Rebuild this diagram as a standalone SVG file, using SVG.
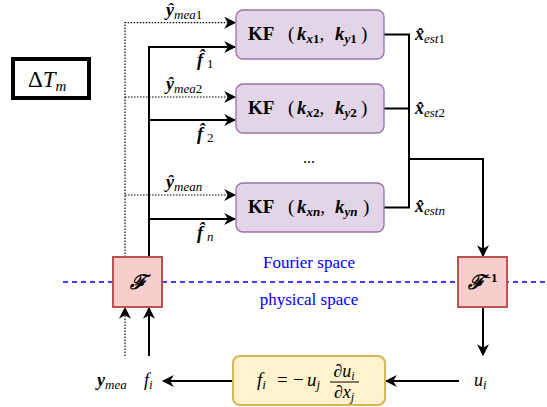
<svg xmlns="http://www.w3.org/2000/svg" width="547" height="407" viewBox="0 0 547 407" font-family="'Liberation Serif', 'DejaVu Serif', 'Times New Roman', serif">
<defs>
<style>
text{font-family:'Liberation Serif','DejaVu Serif','Times New Roman',serif;fill:#000}
.kf{fill:#e1d5e7;stroke:#9673a6;stroke-width:1.3}
.ft{fill:#f8cecc;stroke:#b85450;stroke-width:2}
.yb{fill:#fff2cc;stroke:#d6b656;stroke-width:2}
.sol{fill:none;stroke:#000;stroke-width:2}
.dot{fill:none;stroke:#000;stroke-width:1.2;stroke-dasharray:1.5 1.5}
.bv{font-weight:bold;font-style:italic;font-size:18px}
.sb{font-style:italic;font-size:13px}
.n{font-size:13px}
.blue{font-size:17px;fill:#0000ff}
.kt{font-size:19px}
.b{font-weight:bold}
.bi{font-weight:bold;font-style:italic}
.bs{font-weight:bold;font-style:italic;font-size:13px}
.it{font-style:italic}
</style>
<marker id="ah2" viewBox="0 0 10 10" refX="9" refY="5" markerWidth="12" markerHeight="12" orient="auto" markerUnits="userSpaceOnUse">
<path d="M0,0 L10,5 L0,10 L3,5 z" fill="#000"/>
</marker>
</defs>
<rect width="547" height="407" fill="#fff"/>

<line x1="63" y1="282" x2="547" y2="282" stroke="#0000ff" stroke-width="1.3" stroke-dasharray="5 4"/>
<text class="blue" x="309" y="268" text-anchor="middle">Fourier space</text>
<text class="blue" x="309" y="305" text-anchor="middle">physical space</text>

<g id="connectors">
<path class="dot" d="M125,257 V22.7 H235" marker-end="url(#ah2)"/>
<path class="dot" d="M125,97 H235" marker-end="url(#ah2)"/>
<path class="dot" d="M125,195 H235" marker-end="url(#ah2)"/>
<path class="sol" d="M149,257 V47 H235" marker-end="url(#ah2)"/>
<path class="sol" d="M149,120 H235" marker-end="url(#ah2)"/>
<path class="sol" d="M149,219 H235" marker-end="url(#ah2)"/>
<path class="sol" d="M384,34.5 H409 V207.5 H384"/>
<path class="sol" d="M384,108.5 H409"/>
<path class="sol" d="M409,159 H483 V256" marker-end="url(#ah2)"/>
<path class="sol" d="M483,307 V355" marker-end="url(#ah2)"/>
<path class="sol" d="M459,381 H386" marker-end="url(#ah2)"/>
<path class="sol" d="M233,381 H163" marker-end="url(#ah2)"/>
<path class="dot" d="M125,356 V308" marker-end="url(#ah2)"/>
<path class="sol" d="M149,356 V308" marker-end="url(#ah2)"/>
</g>

<g id="dT">
<rect x="13" y="59" width="76" height="39" fill="#fff" stroke="#000" stroke-width="4"/>
<text x="28" y="87" font-size="23">Δ<tspan class="it">T</tspan><tspan class="it" font-size="15" dy="4">m</tspan></text>
</g>

<g id="kf1">
<rect class="kf" x="236" y="10" width="148" height="49" rx="7"/>
<text class="kt" y="40"><tspan class="b" x="248">KF</tspan><tspan x="288">(</tspan><tspan class="bi" x="297">k</tspan><tspan class="bs" dy="3">x</tspan><tspan class="b n">1</tspan><tspan dy="-3">,</tspan><tspan class="bi" x="335">k</tspan><tspan class="bs" dy="3">y</tspan><tspan class="b n">1</tspan><tspan dy="-3" x="361">)</tspan></text>
</g>
<g id="kf2">
<rect class="kf" x="236" y="84" width="148" height="49" rx="7"/>
<text class="kt" y="114"><tspan class="b" x="248">KF</tspan><tspan x="288">(</tspan><tspan class="bi" x="297">k</tspan><tspan class="bs" dy="3">x</tspan><tspan class="b n">2</tspan><tspan dy="-3">,</tspan><tspan class="bi" x="335">k</tspan><tspan class="bs" dy="3">y</tspan><tspan class="b n">2</tspan><tspan dy="-3" x="361">)</tspan></text>
</g>
<g id="dots">
<text x="309" y="163" text-anchor="middle" font-size="16">...</text>
</g>
<g id="kfn">
<rect class="kf" x="236" y="183" width="148" height="49" rx="7"/>
<text class="kt" y="213"><tspan class="b" x="248">KF</tspan><tspan x="288">(</tspan><tspan class="bi" x="297">k</tspan><tspan class="bs" dy="3">xn</tspan><tspan dy="-3">,</tspan><tspan class="bi" x="335">k</tspan><tspan class="bs" dy="3">yn</tspan><tspan dy="-3" x="363">)</tspan></text>
</g>

<g id="labels">
<text x="166" y="16"><tspan class="bv">ŷ</tspan><tspan class="sb" dy="3">mea</tspan><tspan class="n">1</tspan></text>
<text x="166" y="90"><tspan class="bv">ŷ</tspan><tspan class="sb" dy="3">mea</tspan><tspan class="n">2</tspan></text>
<text x="166" y="188"><tspan class="bv">ŷ</tspan><tspan class="sb" dy="3">mean</tspan></text>
<text x="197" y="66"><tspan class="bv">f̂</tspan><tspan class="n" dx="4" dy="2">1</tspan></text>
<text x="197" y="140"><tspan class="bv">f̂</tspan><tspan class="n" dx="4" dy="2">2</tspan></text>
<text x="197" y="239"><tspan class="bv">f̂</tspan><tspan class="sb" dx="4" dy="2">n</tspan></text>
<text x="415" y="40"><tspan class="bv">x̂</tspan><tspan class="sb" dy="3">est</tspan><tspan class="n">1</tspan></text>
<text x="415" y="114"><tspan class="bv">x̂</tspan><tspan class="sb" dy="3">est</tspan><tspan class="n">2</tspan></text>
<text x="415" y="212"><tspan class="bv">x̂</tspan><tspan class="sb" dy="3">estn</tspan></text>
<text x="97" y="386"><tspan class="bv">y</tspan><tspan class="sb" dy="3">mea</tspan></text>
<text x="144" y="386"><tspan class="it" font-size="18">f</tspan><tspan class="sb" dy="3">i</tspan></text>
<text x="474" y="386"><tspan class="it" font-size="18">u</tspan><tspan class="sb" dy="3">i</tspan></text>
</g>

<g id="F">
<rect class="ft" x="113" y="257" width="49" height="50"/>
<text x="137.5" y="289" text-anchor="middle" font-size="20" class="bi">ℱ</text>
</g>
<g id="Finv">
<rect class="ft" x="458" y="257" width="49" height="50"/>
<text x="482.5" y="289" text-anchor="middle" font-size="20"><tspan class="bi">ℱ</tspan><tspan class="b" font-size="13" dy="-7">−1</tspan></text>
</g>

<g id="closure">
<rect class="yb" x="233" y="356" width="152" height="49" rx="7"/>
<text y="386" font-size="19"><tspan class="it" x="257">f</tspan><tspan class="it" font-size="13" dy="3">i</tspan><tspan dy="-3" x="277">=</tspan><tspan x="293">−</tspan><tspan class="it" x="307">u</tspan><tspan class="it" font-size="13" dy="3">j</tspan></text>
<text x="344" y="377" text-anchor="middle" font-size="18">∂<tspan class="it">u</tspan><tspan class="it" font-size="12" dy="3">i</tspan></text>
<line x1="330" y1="382" x2="359" y2="382" stroke="#000" stroke-width="1"/>
<text x="344" y="398" text-anchor="middle" font-size="18">∂<tspan class="it">x</tspan><tspan class="it" font-size="12" dy="3">j</tspan></text>
</g>
</svg>
